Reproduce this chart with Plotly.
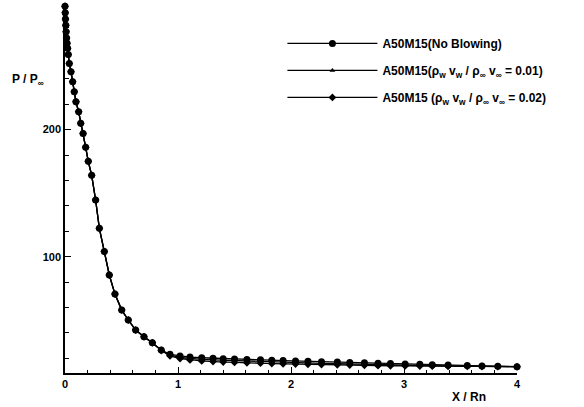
import plotly.graph_objects as go

x_vals = [0, 0.002, 0.004, 0.007, 0.010, 0.014, 0.018, 0.023, 0.029, 0.038, 0.053, 0.068,
          0.082, 0.097, 0.121, 0.139, 0.16, 0.183, 0.206, 0.236, 0.271, 0.304, 0.348, 0.392,
          0.442, 0.502, 0.56, 0.625, 0.699, 0.773, 0.852, 0.929, 1.018, 1.106, 1.21, 1.31,
          1.40, 1.50, 1.61, 1.73, 1.83, 1.93, 2.04, 2.15, 2.27, 2.41, 2.52, 2.65, 2.77, 2.88,
          3.01, 3.14, 3.25, 3.39, 3.56, 3.69, 3.83, 4.0]

p_no_blowing = [297, 292, 287, 282, 277, 272, 268, 264, 259, 252, 245.5, 237.7,
                229.8, 221.9, 214, 204.9, 197, 186, 175, 164, 144.6, 122.3, 104, 85.6,
                70.6, 58, 50.2, 42.3, 37, 32.3, 26.6, 23.2, 21.8, 21.0, 20.5, 20.1,
                19.8, 19.5, 19.2, 18.9, 18.6, 18.3, 18.0, 17.7, 17.4, 17.1, 16.8, 16.5, 16.2, 15.9,
                15.6, 15.3, 15.0, 14.7, 14.4, 14.1, 13.8, 13.5]

p_blow_001 = [297, 292, 287, 282, 277, 272, 268, 264, 259, 252, 245.5, 237.7,
              229.8, 221.9, 214, 204.9, 197, 186, 175, 164, 144.6, 122.3, 104, 85.6,
              70.6, 58, 50.2, 42.3, 37, 32.3, 26.4, 22.6, 20.8, 19.8, 19.2, 18.8,
              18.5, 18.2, 17.9, 17.6, 17.3, 17.0, 16.7, 16.4, 16.1, 15.8, 15.5, 15.2, 15.0, 14.8,
              14.6, 14.4, 14.2, 14.0, 13.9, 13.8, 13.6, 13.5]

p_blow_002 = [297, 292, 287, 282, 277, 272, 268, 264, 259, 252, 245.5, 237.7,
              229.8, 221.9, 214, 204.9, 197, 186, 175, 164, 144.6, 122.3, 104, 85.6,
              70.6, 58, 50.2, 42.3, 37, 32.3, 26.2, 22.0, 19.9, 18.8, 18.0, 17.5,
              17.1, 16.8, 16.5, 16.2, 15.9, 15.7, 15.5, 15.3, 15.1, 14.9, 14.7, 14.5, 14.3, 14.2,
              14.1, 14.0, 13.9, 13.8, 13.7, 13.6, 13.5, 13.4]

names = [
    "A50M15(No Blowing)",
    "A50M15(ρ<sub>w</sub> v<sub>w</sub> / ρ<sub>∞</sub> v<sub>∞</sub> = 0.01)",
    "A50M15 (ρ<sub>w</sub> v<sub>w</sub> / ρ<sub>∞</sub> v<sub>∞</sub> = 0.02)",
]
series = [p_no_blowing, p_blow_001, p_blow_002]
symbols = ["circle", "triangle-up", "diamond"]
sizes = [7, 5, 6]

x_tick_vals = [0, 1, 2, 3, 4]
y_tick_vals = [100, 200]

FONT = dict(family="Liberation Sans, Arial, sans-serif", size=11, color="black", weight=700)
LABEL_FONT = dict(family="Liberation Sans, Arial, sans-serif", size=12, color="black", weight=700)

fig = go.Figure()
for i, (nm, ys) in enumerate(zip(names, series)):
    fig.add_trace(go.Scatter(
        x=x_vals, y=ys, mode="lines+markers", name=nm,
        legendgroup=f"g{i}",
        line=dict(color="black", width=1.3),
        marker=dict(symbol=symbols[i], size=sizes[i], color="black"),
        cliponaxis=False,
    ))

fig.update_layout(
    width=584, height=407,
    margin=dict(l=65, r=67, t=5, b=34),
    paper_bgcolor="white", plot_bgcolor="white",
    font=FONT,
    showlegend=True,
    legend=dict(
        x=0.481, y=0.935, xanchor="left", yanchor="top",
        bgcolor="rgba(0,0,0,0)",
        font=LABEL_FONT,
        itemwidth=90,
        tracegroupgap=8,
        traceorder="grouped",
    ),
    xaxis=dict(
        range=[0, 4], showgrid=False, zeroline=False,
        showline=True, linecolor="black", linewidth=1.5,
        ticks="inside", ticklen=6, tickwidth=1.2, tickcolor="black",
        tickvals=x_tick_vals,
        minor=dict(dtick=0.2, tick0=0, ticks="inside", ticklen=3, tickcolor="black", tickwidth=1),
        tickfont=FONT,
    ),
    yaxis=dict(
        range=[8.5, 298], showgrid=False, zeroline=False,
        showline=True, linecolor="black", linewidth=1.5,
        ticks="inside", ticklen=6, tickwidth=1.2, tickcolor="black",
        tickvals=y_tick_vals,
        minor=dict(dtick=20, tick0=0, ticks="inside", ticklen=4, tickcolor="black", tickwidth=1),
        tickfont=FONT,
    ),
    annotations=[
        dict(text="P / P<sub>∞</sub>", xref="paper", yref="paper",
             x=-0.082, y=0.795, xanchor="center", yanchor="middle",
             showarrow=False, font=LABEL_FONT),
        dict(text="X / Rn", xref="paper", yref="paper",
             x=0.893, y=-0.065, xanchor="center", yanchor="middle",
             showarrow=False, font=LABEL_FONT),
    ],
)

fig.write_html("out.html")
